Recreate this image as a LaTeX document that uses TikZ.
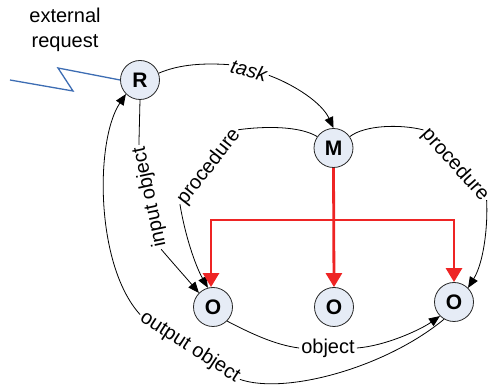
\documentclass[tikz,border=0pt]{standalone}
\usepackage{fontspec}
\setmainfont{Liberation Sans}
\usetikzlibrary{arrows.meta}
\definecolor{nodefill}{HTML}{E6ECF6}
\definecolor{flowred}{HTML}{EE2424}
\definecolor{wireblue}{HTML}{3D6DB3}

\begin{document}
\begin{tikzpicture}[x=1pt,y=-1pt,
  agent/.style={circle,draw=black!85,line width=0.8pt,fill=nodefill,minimum size=39pt,inner sep=0pt,
    font=\fontsize{21}{21}\selectfont\bfseries},
  lbl/.style={inner sep=2pt,font=\fontsize{20}{25}\selectfont},
  plain/.style={draw,line width=0.8pt},
  link/.style={plain,-{Triangle[length=11pt,width=9pt]}},
  dispatch/.style={draw=flowred,line width=2.8pt,-{Triangle[length=14pt,width=16pt]}},
  bolt/.style={draw=wireblue,line width=1.3pt}
]
\useasboundingbox (0,0) rectangle (491,387);

% agents
\node[agent] (R)  at (140,80)    {R};
\node[agent] (M)  at (333.5,148) {M};
\node[agent] (O1) at (213,307)   {O};
\node[agent] (O2) at (334,307)   {O};
\node[agent] (O3) at (454,302)   {O};

% labels
\node[lbl,align=center] (ext) at (65,30) {external\\request};
\node[lbl,font=\fontsize{20}{25}\selectfont\itshape,rotate=-15] (tk) at (249,70) {task};
\node[lbl,rotate=102] (io) at (150,197) {input object};
\node[lbl,rotate=52]  (pl) at (209,167) {procedure};
\node[lbl,rotate=-48] (pr) at (455,165) {procedure};
\node[lbl,rotate=-33] (oo) at (190,347) {output object};
\node[lbl] (ob) at (328,348) {object};

% external request wire
\coordinate (w0) at (10,80);
\draw[bolt] (w0) -- (73,91) -- (58,68) -- (R.west);

% task
\draw[plain] (R.20) .. controls (180,64) and (205,63) .. (tk.west);
\draw[link] (tk.east) .. controls (295,85) and (322,103) .. (M.north);

% input object
\draw[plain] (R.south) -- (io.east);
\draw[link] (io.west) .. controls (172,262) and (188,280) .. (O1.135);

% procedures
\draw[plain] (M.145) .. controls (300,126) and (265,126) .. (pl.east);
\draw[link] (pl.west) .. controls (185,235) and (195,265) .. (O1.105);
\draw[plain] (M.35) .. controls (365,125) and (400,124) .. (pr.west);
\draw[link] (pr.east) .. controls (488,225) and (484,262) .. (O3.45);

% object
\draw[plain] (O1.-45) .. controls (250,333) and (275,345) .. (ob.west);
\draw[link] (ob.east) .. controls (385,346) and (420,330) .. (O3.225);

% output object
\draw[plain] (O3.240) .. controls (385,368) and (285,395) .. (oo.east);
\draw[link] (oo.west) .. controls (95,265) and (95,140) .. (R.225);

% dispatch from M
\coordinate (J) at (333.5,220);
\draw[dispatch] (M.south) -- (O2.north);
\draw[dispatch] (J) -| ([xshift=-2pt]O1.north);
\draw[dispatch] (J) -| (O3.north);
\end{tikzpicture}
\end{document}
